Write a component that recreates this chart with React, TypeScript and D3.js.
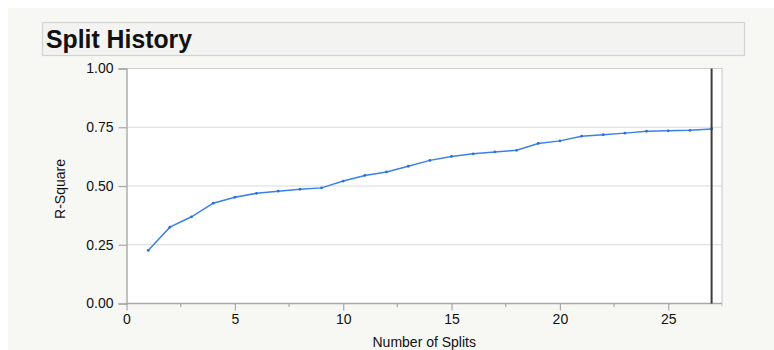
// Split History — R-Square by number of splits, JMP-style line plot.
import { useEffect, useRef } from "react";
import * as d3 from "d3";

const SPLITS = [1, 2, 3, 4, 5, 6, 7, 8, 9, 10, 11, 12, 13, 14, 15, 16, 17, 18, 19, 20, 21, 22, 23, 24, 25, 26, 27];
const RSQUARE = [
  0.226, 0.325, 0.369, 0.427, 0.452, 0.469, 0.478, 0.486, 0.492, 0.521, 0.545, 0.56, 0.584, 0.609,
  0.626, 0.637, 0.645, 0.652, 0.681, 0.692, 0.712, 0.718, 0.725, 0.733, 0.735, 0.737, 0.743,
];
const X_TICKS = [0, 5, 10, 15, 20, 25];
const X_MINOR = [2.5, 7.5, 12.5, 17.5, 22.5];
const Y_TICKS = [0, 0.25, 0.5, 0.75, 1];
const SELECTED_SPLIT = 27;

const W = 774;
const H = 350;
const FONT = "'Liberation Sans', Arial, Helvetica, sans-serif";

export default function App() {
  const ref = useRef<SVGSVGElement>(null);

  useEffect(() => {
    const svg = d3.select(ref.current!);
    svg.selectAll("*").remove();

    // panel
    svg.append("rect").attr("x", 8).attr("y", 8).attr("width", W - 8).attr("height", H - 8).attr("fill", "#f7f7f3");

    // title box
    svg
      .append("rect")
      .attr("x", 42.5)
      .attr("y", 22.5)
      .attr("width", 702)
      .attr("height", 33)
      .attr("fill", "#f3f3f2")
      .attr("stroke", "#d2d2d2")
      .attr("stroke-width", 1.2);
    svg
      .append("text")
      .attr("x", 46)
      .attr("y", 48)
      .attr("font-family", FONT)
      .attr("font-weight", "bold")
      .attr("font-size", 25)
      .attr("textLength", 146)
      .attr("lengthAdjust", "spacingAndGlyphs")
      .attr("fill", "#111")
      .text("Split History");

    const x = d3.scaleLinear().domain([0, 27.48]).range([126.5, 722]);
    const y = d3.scaleLinear().domain([0, 1]).range([303.5, 68.5]);
    const [x0, x1] = x.range();
    const [yb, yt] = y.range();

    // plot background + frame
    svg.append("rect").attr("x", x0).attr("y", yt).attr("width", x1 - x0).attr("height", yb - yt).attr("fill", "#fff");
    svg
      .append("g")
      .selectAll("line")
      .data(Y_TICKS.filter((t) => t > 0 && t < 1))
      .join("line")
      .attr("x1", x0)
      .attr("x2", x1)
      .attr("y1", (d) => y(d))
      .attr("y2", (d) => y(d))
      .attr("stroke", "#dadada")
      .attr("stroke-width", 1.2);
    svg
      .append("path")
      .attr("d", `M${x0},${yt}H${x1}V${yb + 3}`)
      .attr("fill", "none")
      .attr("stroke", "#cfcfcf")
      .attr("stroke-width", 1.2);

    // y axis
    const gy = svg
      .append("g")
      .attr("transform", `translate(${x0},0)`)
      .call(d3.axisLeft(y).tickValues(Y_TICKS).tickSize(8).tickPadding(5).tickFormat(d3.format(".2f")));
    gy.select(".domain").attr("stroke", "#a8a8a8").attr("stroke-width", 1.4);
    gy.selectAll(".tick line").attr("stroke", "#a8a8a8").attr("stroke-width", 1.2);
    gy.selectAll("text").attr("font-family", FONT).attr("font-size", 14).attr("fill", "#111");

    // x axis
    const gx = svg
      .append("g")
      .attr("transform", `translate(0,${yb})`)
      .call(d3.axisBottom(x).tickValues(X_TICKS).tickSize(7).tickPadding(4).tickFormat(d3.format("d")));
    gx.select(".domain").attr("stroke", "#a8a8a8").attr("stroke-width", 1.4).attr("d", `M${x0},0H${x1}`);
    gx.selectAll(".tick line").attr("stroke", "#a8a8a8").attr("stroke-width", 1.2);
    gx.selectAll("text").attr("font-family", FONT).attr("font-size", 14).attr("fill", "#111");
    gx.append("g")
      .selectAll("line")
      .data(X_MINOR)
      .join("line")
      .attr("x1", (d) => x(d))
      .attr("x2", (d) => x(d))
      .attr("y1", 0)
      .attr("y2", 3.5)
      .attr("stroke", "#a8a8a8")
      .attr("stroke-width", 1.2);

    // axis titles
    svg
      .append("text")
      .attr("x", (x0 + x1) / 2)
      .attr("y", 347)
      .attr("text-anchor", "middle")
      .attr("font-family", FONT)
      .attr("font-size", 14)
      .attr("fill", "#111")
      .text("Number of Splits");
    svg
      .append("text")
      .attr("transform", `translate(65,189) rotate(-90)`)
      .attr("text-anchor", "middle")
      .attr("font-family", FONT)
      .attr("font-size", 14)
      .attr("fill", "#111")
      .text("R-Square");

    // series
    const pts = SPLITS.map((s, i) => [s, RSQUARE[i]] as [number, number]);
    const line = d3
      .line<[number, number]>()
      .x((d) => x(d[0]))
      .y((d) => y(d[1]));
    svg
      .append("path")
      .datum(pts)
      .attr("d", line)
      .attr("fill", "none")
      .attr("stroke", "#3b80e8")
      .attr("stroke-width", 1.5);
    svg
      .append("g")
      .selectAll("circle")
      .data(pts)
      .join("circle")
      .attr("cx", (d) => x(d[0]))
      .attr("cy", (d) => y(d[1]))
      .attr("r", 1.4)
      .attr("fill", "#2f6fd6");

    // selected split marker
    svg
      .append("line")
      .attr("x1", x(SELECTED_SPLIT))
      .attr("x2", x(SELECTED_SPLIT))
      .attr("y1", yt)
      .attr("y2", yb)
      .attr("stroke", "#3c3c3c")
      .attr("stroke-width", 2);
  }, []);

  return (
    <>
      <style>{`body { margin: 0; background: #fff; }`}</style>
      <svg ref={ref} width={W} height={H} style={{ display: "block" }} />
    </>
  );
}
